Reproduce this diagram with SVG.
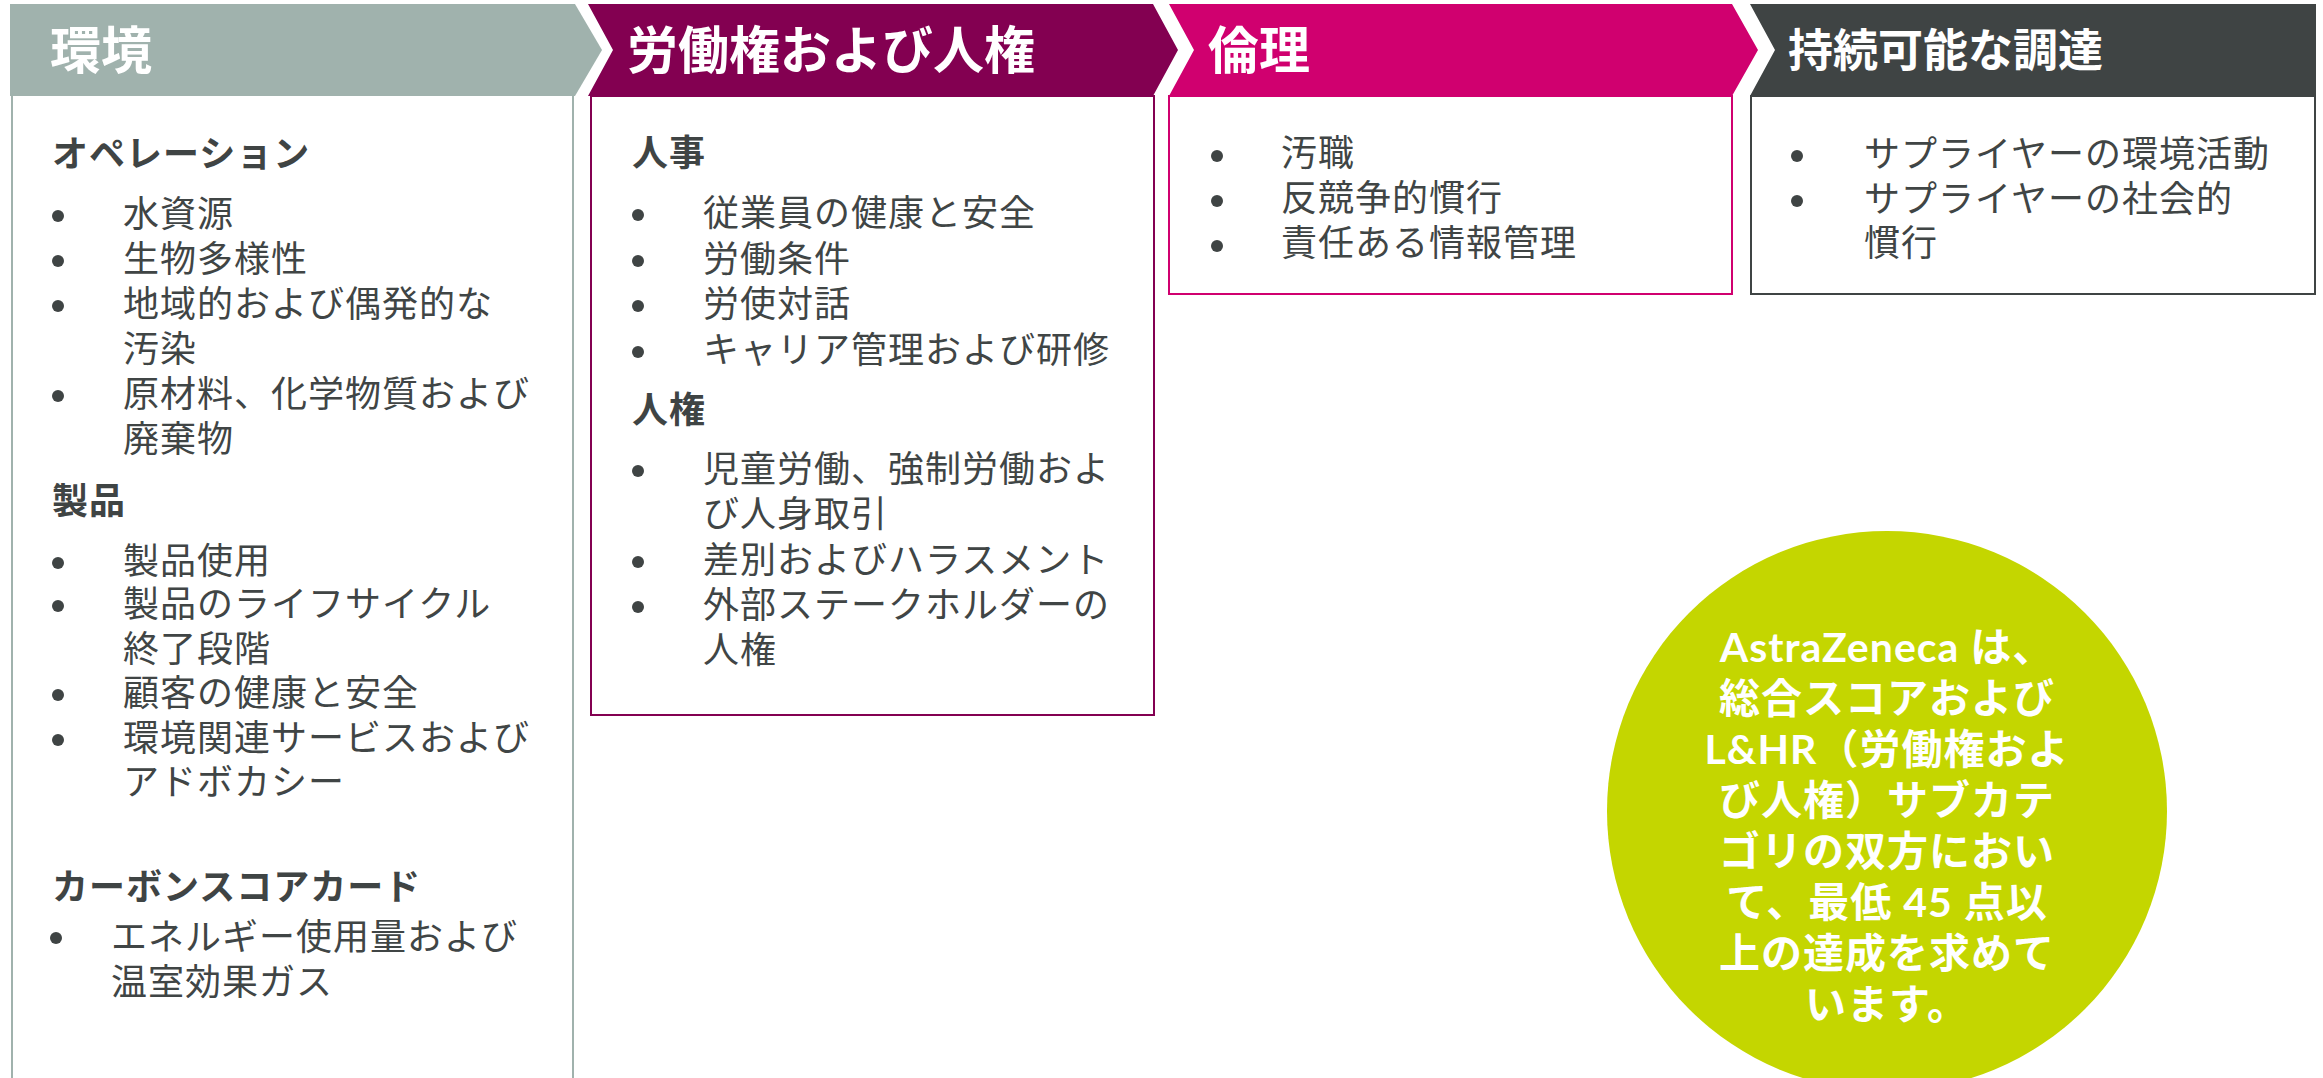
<svg xmlns="http://www.w3.org/2000/svg" width="2323" height="1078" viewBox="0 0 2323 1078">
<style>
.hd{font-family:"Noto Sans CJK JP","Noto Sans",sans-serif;font-weight:700;fill:#ffffff}
.sub{font-family:"Noto Sans CJK JP","Noto Sans",sans-serif;font-weight:700;font-size:36px;letter-spacing:1px;fill:#3f4444}
.tx{font-family:"Noto Sans CJK JP","Noto Sans",sans-serif;font-weight:400;font-size:36px;letter-spacing:1px;fill:#404545}
.ct{font-family:Lato,"Noto Sans CJK JP",sans-serif;font-weight:700;font-size:41px;letter-spacing:1px;fill:#ffffff;text-anchor:middle}
.bl{fill:#3f4444}
</style>
<rect width="2323" height="1078" fill="#ffffff"/>
<g id="environment">
<path d="M10,4 L575,4 L602,50 L575,96 L10,96 Z" fill="#a0b2ad"/>
<path d="M12,96 L12,1090 M573,96 L573,1090" stroke="#a0b2ad" stroke-width="2" fill="none"/>
<text class="hd" x="50" y="69" font-size="51">環境</text>
<text class="sub" x="52" y="167">オペレーション</text>
<circle class="bl" cx="58" cy="216" r="6"/><text class="tx" x="123" y="227">水資源</text>
<circle class="bl" cx="58" cy="261" r="6"/><text class="tx" x="123" y="272">生物多様性</text>
<circle class="bl" cx="58" cy="306" r="6"/><text class="tx" x="123" y="317">地域的および偶発的な</text>
<text class="tx" x="123" y="362">汚染</text>
<circle class="bl" cx="58" cy="396" r="6"/><text class="tx" x="123" y="407">原材料、化学物質および</text>
<text class="tx" x="123" y="452">廃棄物</text>
<text class="sub" x="52" y="514">製品</text>
<circle class="bl" cx="58" cy="563" r="6"/><text class="tx" x="123" y="574">製品使用</text>
<circle class="bl" cx="58" cy="606" r="6"/><text class="tx" x="123" y="617">製品のライフサイクル</text>
<text class="tx" x="123" y="662">終了段階</text>
<circle class="bl" cx="58" cy="695" r="6"/><text class="tx" x="123" y="706">顧客の健康と安全</text>
<circle class="bl" cx="58" cy="740" r="6"/><text class="tx" x="123" y="751">環境関連サービスおよび</text>
<text class="tx" x="123" y="795">アドボカシー</text>
<text class="sub" x="52" y="900">カーボンスコアカード</text>
<circle class="bl" cx="56" cy="938" r="6"/><text class="tx" x="111" y="950">エネルギー使用量および</text>
<text class="tx" x="111" y="995">温室効果ガス</text>
</g>
<g id="labour">
<path d="M588,4 L1153,4 L1178,50 L1153,96 L588,96 L613,50 Z" fill="#830051"/>
<rect x="591" y="96" width="563" height="619" fill="none" stroke="#830051" stroke-width="2"/>
<text class="hd" x="627" y="69" font-size="51">労働権および人権</text>
<text class="sub" x="632" y="166">人事</text>
<circle class="bl" cx="638" cy="215" r="6"/><text class="tx" x="703" y="226">従業員の健康と安全</text>
<circle class="bl" cx="638" cy="261" r="6"/><text class="tx" x="703" y="272">労働条件</text>
<circle class="bl" cx="638" cy="306" r="6"/><text class="tx" x="703" y="317">労使対話</text>
<circle class="bl" cx="638" cy="352" r="6"/><text class="tx" x="703" y="363">キャリア管理および研修</text>
<text class="sub" x="632" y="423">人権</text>
<circle class="bl" cx="638" cy="471" r="6"/><text class="tx" x="703" y="482">児童労働、強制労働およ</text>
<text class="tx" x="703" y="527">び人身取引</text>
<circle class="bl" cx="638" cy="562" r="6"/><text class="tx" x="703" y="573">差別およびハラスメント</text>
<circle class="bl" cx="638" cy="607" r="6"/><text class="tx" x="703" y="618">外部ステークホルダーの</text>
<text class="tx" x="703" y="663">人権</text>
</g>
<g id="ethics">
<path d="M1169,4 L1732,4 L1758,50 L1732,96 L1169,96 L1194,50 Z" fill="#d0006f"/>
<rect x="1169" y="96" width="563" height="198" fill="none" stroke="#d0006f" stroke-width="2"/>
<text class="hd" x="1208" y="69" font-size="51">倫理</text>
<circle class="bl" cx="1217" cy="156" r="6"/><text class="tx" x="1281" y="166">汚職</text>
<circle class="bl" cx="1217" cy="201" r="6"/><text class="tx" x="1281" y="211">反競争的慣行</text>
<circle class="bl" cx="1217" cy="246" r="6"/><text class="tx" x="1281" y="256">責任ある情報管理</text>
</g>
<g id="procurement">
<path d="M1750,4 L2316,4 L2316,96 L1750,96 L1775,50 Z" fill="#3f4444"/>
<rect x="1751" y="96" width="564" height="198" fill="none" stroke="#3f4444" stroke-width="2"/>
<text class="hd" x="1788" y="67" font-size="45">持続可能な調達</text>
<circle class="bl" cx="1797" cy="156" r="6"/><text class="tx" x="1864" y="167">サプライヤーの環境活動</text>
<circle class="bl" cx="1797" cy="201" r="6"/><text class="tx" x="1864" y="212">サプライヤーの社会的</text>
<text class="tx" x="1864" y="256">慣行</text>
</g>
<g id="target">
<circle cx="1887" cy="811" r="280" fill="#c4d600"/>
<text class="ct" x="1887" y="662">AstraZeneca は、</text>
<text class="ct" x="1887" y="713">総合スコアおよび</text>
<text class="ct" x="1887" y="764">L&amp;HR（労働権およ</text>
<text class="ct" x="1887" y="815">び人権）サブカテ</text>
<text class="ct" x="1887" y="866">ゴリの双方におい</text>
<text class="ct" x="1887" y="917">て、最低 45 点以</text>
<text class="ct" x="1887" y="968">上の達成を求めて</text>
<text class="ct" x="1887" y="1019">います。</text>
</g>
<g id="connectors"/>
</svg>
